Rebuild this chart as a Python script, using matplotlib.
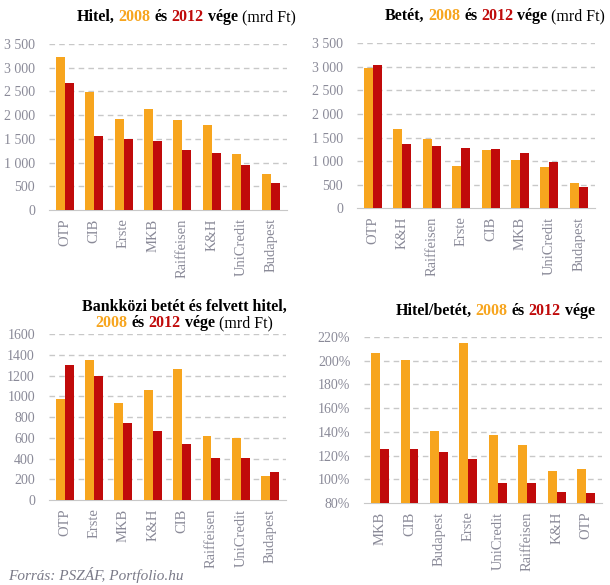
import matplotlib
matplotlib.use("Agg")
import matplotlib.pyplot as plt
import numpy as np
from matplotlib.ticker import FuncFormatter

plt.rcParams['font.family'] = ['Liberation Serif', 'DejaVu Serif']

NARANCS = '#F7A51E'
PIROS = '#C00A0A'
SZURKE = '#8a8a98'

# Hitel (mrd Ft)
hitel_bankok = ['OTP', 'CIB', 'Erste', 'MKB', 'Raiffeisen', 'K&H', 'UniCredit', 'Budapest']
hitel_2008 = [3230, 2490, 1920, 2130, 1900, 1790, 1180, 760]
hitel_2012 = [2680, 1560, 1500, 1455, 1265, 1200, 950, 570]

# Betét (mrd Ft)
betet_bankok = ['OTP', 'K&H', 'Raiffeisen', 'Erste', 'CIB', 'MKB', 'UniCredit', 'Budapest']
betet_2008 = [2970, 1675, 1465, 890, 1230, 1020, 870, 530]
betet_2012 = [3030, 1355, 1315, 1272, 1250, 1167, 975, 445]

# Bankközi betét és felvett hitel (mrd Ft)
bankkozi_bankok = ['OTP', 'Erste', 'MKB', 'K&H', 'CIB', 'Raiffeisen', 'UniCredit', 'Budapest']
bankkozi_2008 = [975, 1350, 935, 1060, 1265, 617, 600, 232]
bankkozi_2012 = [1300, 1195, 742, 665, 540, 405, 405, 270]

# Hitel/betét (%)
arany_bankok = ['MKB', 'CIB', 'Budapest', 'Erste', 'UniCredit', 'Raiffeisen', 'K&H', 'OTP']
arany_2008 = [206.5, 200.6, 140.7, 214.9, 137.3, 128.9, 107.0, 108.7]
arany_2012 = [125.5, 125.5, 123.0, 117.1, 96.9, 96.9, 89.3, 88.4]


def oszlopok(ax, bankok, ertek08, ertek12, ymin, ymax, lepes, fmt):
    x = np.arange(len(bankok))
    w = 0.305
    ax.bar(x - w / 2, ertek08, w, color=NARANCS, zorder=3)
    ax.bar(x + w / 2, ertek12, w, color=PIROS, zorder=3)
    ax.set_xlim(-0.54, len(bankok) - 0.46)
    ax.set_ylim(ymin, ymax)
    ticks = np.arange(ymin, ymax + lepes / 2, lepes)
    ax.set_yticks(ticks)
    ax.yaxis.set_major_formatter(FuncFormatter(fmt))
    for t in ticks[1:]:
        ax.axhline(t, color='#c8c8c8', lw=1, ls=(0, (4, 3)), zorder=1)
    ax.set_xticks(x)
    ax.set_xticklabels(bankok, rotation=90, fontsize=10.5, color=SZURKE)
    ax.tick_params(axis='y', labelsize=10, labelcolor=SZURKE, length=0, pad=10)
    ax.tick_params(axis='x', length=0, pad=6)
    for s in ['top', 'right', 'left']:
        ax.spines[s].set_visible(False)
    ax.spines['bottom'].set_color('#c8c8c8')


def szines_cim(fig, xc, y, reszek, size=11.5):
    r = fig.canvas.get_renderer()
    szovegek = []
    for s, c, bold in reszek:
        t = fig.text(0, y, s, color=c, fontsize=size, va='center', ha='left',
                     fontweight='bold' if bold else 'normal')
        szovegek.append(t)
    szelek = [t.get_window_extent(r).width for t in szovegek]
    hely = size * 100 / 72 * 0.25
    teljes = sum(szelek) + hely * (len(szelek) - 1)
    x = xc * 610 - teljes / 2
    for t, sz in zip(szovegek, szelek):
        t.set_x(x / 610)
        x += sz + hely


ezres = lambda v, p: f"{int(v):,}".replace(',', ' ')
sima = lambda v, p: f"{int(v)}"
szazalek = lambda v, p: f"{int(v)}%"

fig = plt.figure(figsize=(6.1, 5.85), dpi=100)

ax1 = fig.add_axes([0.080, 0.641, 0.390, 0.284])
oszlopok(ax1, hitel_bankok, hitel_2008, hitel_2012, 0, 3500, 500, ezres)

ax2 = fig.add_axes([0.585, 0.644, 0.390, 0.282])
oszlopok(ax2, betet_bankok, betet_2008, betet_2012, 0, 3500, 500, ezres)

ax3 = fig.add_axes([0.080, 0.145, 0.389, 0.284])
oszlopok(ax3, bankkozi_bankok, bankkozi_2008, bankkozi_2012, 0, 1600, 200, sima)

ax4 = fig.add_axes([0.597, 0.140, 0.390, 0.284])
oszlopok(ax4, arany_bankok, arany_2008, arany_2012, 80, 220, 20, szazalek)

fig.canvas.draw()

szines_cim(fig, 186 / 610, 1 - 17 / 585, [
    ('Hitel,', 'black', True), ('2008', NARANCS, True), ('és', 'black', True),
    ('2012', PIROS, True), ('vége', 'black', True), ('(mrd Ft)', 'black', False)])
szines_cim(fig, 495 / 610, 1 - 16 / 585, [
    ('Betét,', 'black', True), ('2008', NARANCS, True), ('és', 'black', True),
    ('2012', PIROS, True), ('vége', 'black', True), ('(mrd Ft)', 'black', False)])
szines_cim(fig, 184 / 610, 1 - 307 / 585, [
    ('Bankközi betét és felvett hitel,', 'black', True)])
szines_cim(fig, 184 / 610, 1 - 323 / 585, [
    ('2008', NARANCS, True), ('és', 'black', True), ('2012', PIROS, True),
    ('vége', 'black', True), ('(mrd Ft)', 'black', False)])
szines_cim(fig, 495 / 610, 1 - 311 / 585, [
    ('Hitel/betét,', 'black', True), ('2008', NARANCS, True), ('és', 'black', True),
    ('2012', PIROS, True), ('vége', 'black', True)])

fig.text(8 / 610, 1 - 575 / 585, 'Forrás: PSZÁF, Portfolio.hu', fontsize=11,
         style='italic', color='#7a7a88', va='center', ha='left')

fig.savefig('out.png', dpi=100)
